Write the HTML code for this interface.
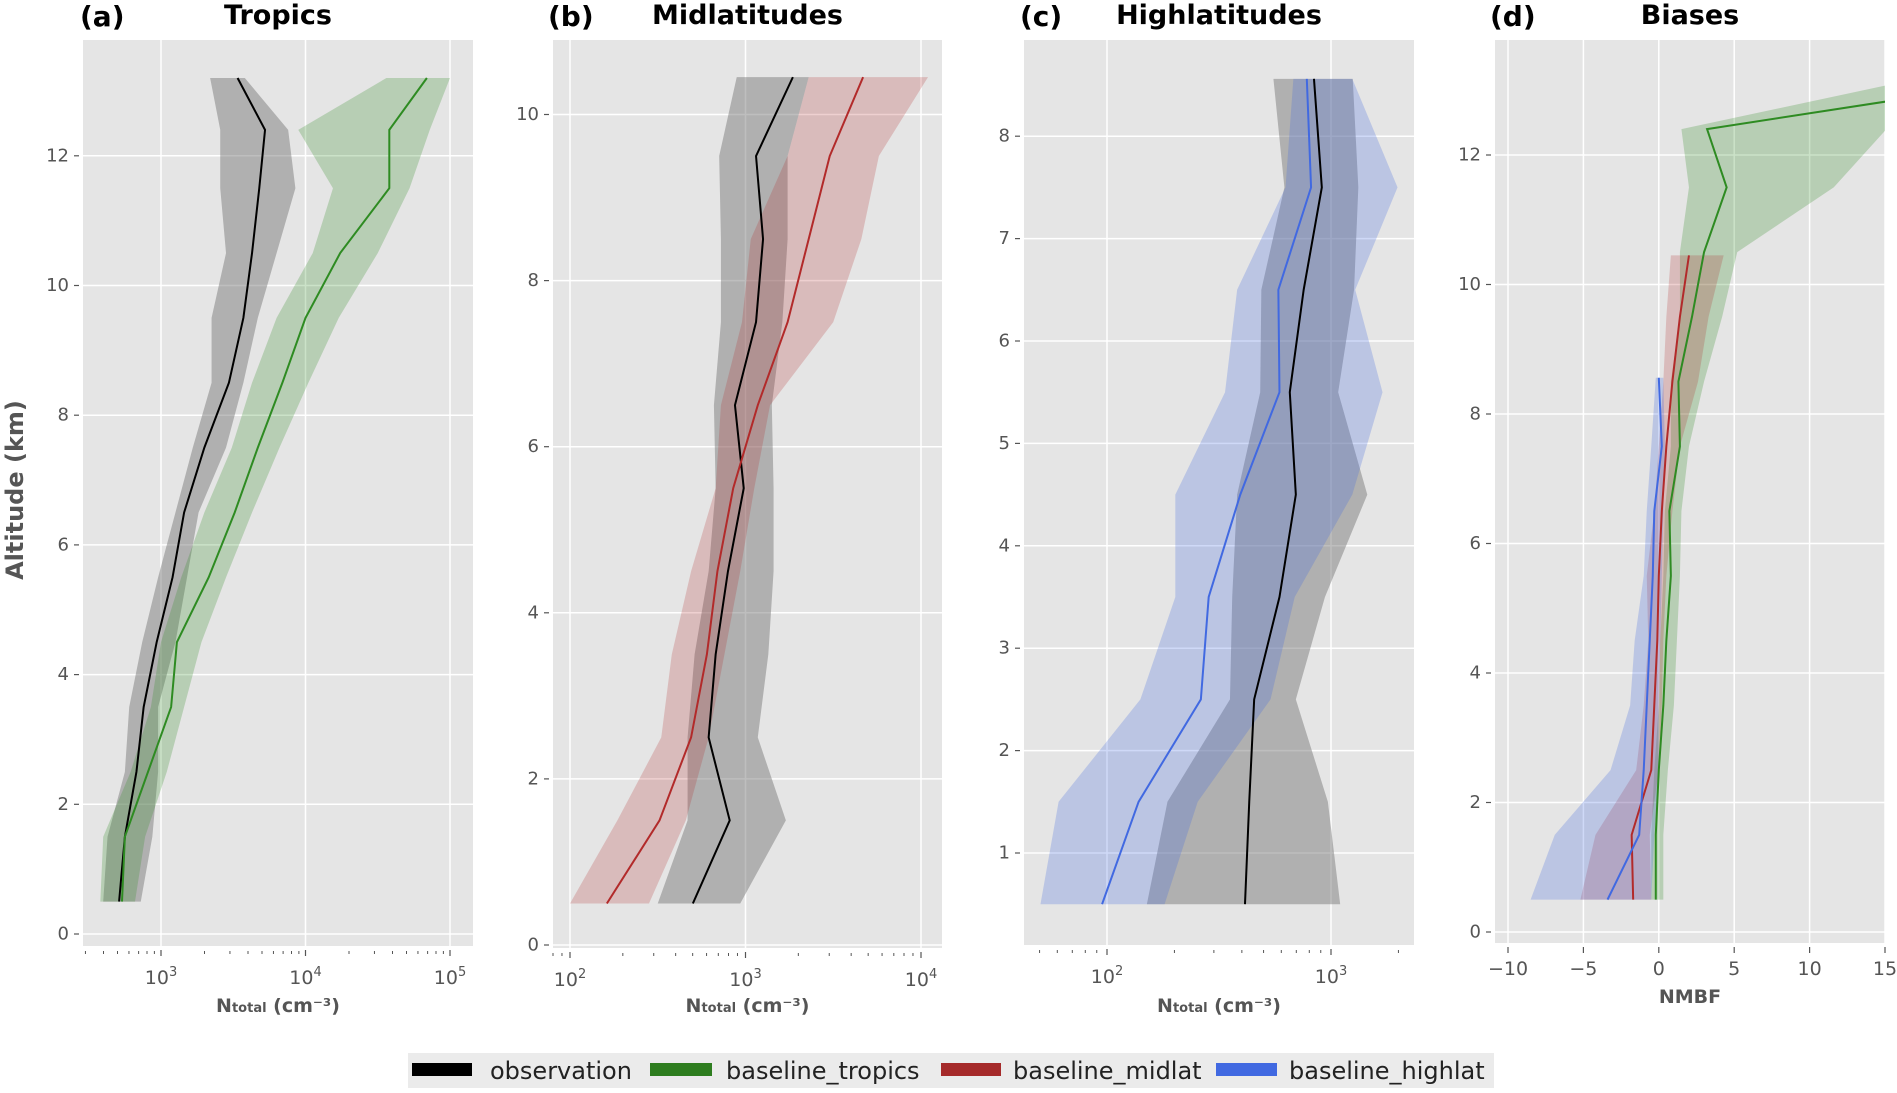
<!DOCTYPE html>
<html><head><meta charset="utf-8"><style>
html,body{margin:0;padding:0;background:#fff;}
body{width:1897px;height:1088px;overflow:hidden;font-family:"Liberation Sans","DejaVu Sans",sans-serif;}
svg text{font-family:"DejaVu Sans","Liberation Sans",sans-serif;}
</style></head><body>
<svg id="chart" width="1897" height="1088" viewBox="0 0 1897 1088" xmlns="http://www.w3.org/2000/svg">
<text x="15" y="490" transform="rotate(-90 15 490)" text-anchor="middle" dominant-baseline="central" font-size="24" font-weight="bold" fill="#555">Altitude (km)</text>
<g>
<rect x="408" y="1053" width="1086" height="35" fill="#ebebeb"/>
<g><rect x="412" y="1063" width="60" height="13" fill="#000"/><text x="490" y="1071" dominant-baseline="central" font-size="24" fill="#222" font-family="Liberation Sans">observation</text></g>
<g><rect x="650" y="1063" width="62" height="13" fill="#2e7d1f"/><text x="726" y="1071" dominant-baseline="central" font-size="24" fill="#222" font-family="Liberation Sans">baseline_tropics</text></g>
<g><rect x="941" y="1063" width="60" height="13" fill="#a52a2a"/><text x="1013" y="1071" dominant-baseline="central" font-size="24" fill="#222" font-family="Liberation Sans">baseline_midlat</text></g>
<g><rect x="1216" y="1063" width="61" height="13" fill="#4169e1"/><text x="1289" y="1071" dominant-baseline="central" font-size="24" fill="#222" font-family="Liberation Sans">baseline_highlat</text></g>
</g>
</svg>
<script>
// ---- Panel (a) Tropics: altitude levels (km) and log10(N) values
const altTropics = [0.5,1.5,2.5,3.5,4.5,5.5,6.5,7.5,8.5,9.5,10.5,11.5,12.4,13.2];
const obsTropMean = [2.71,2.75,2.83,2.88,2.97,3.08,3.16,3.30,3.47,3.57,3.63,3.68,3.72,3.53];
const obsTropLow  = [2.60,2.63,2.75,2.78,2.87,2.98,3.10,3.22,3.35,3.35,3.45,3.41,3.41,3.34];
const obsTropHigh = [2.86,2.94,2.98,2.98,3.10,3.18,3.26,3.45,3.57,3.67,3.80,3.93,3.88,3.58];
const modTropMean = [2.73,2.75,2.91,3.07,3.11,3.33,3.51,3.67,3.84,4.00,4.24,4.58,4.58,4.84];
const modTropLow  = [2.58,2.60,2.79,2.93,3.00,3.14,3.30,3.49,3.63,3.80,4.05,4.19,3.95,4.56];
const modTropHigh = [2.82,2.89,3.04,3.16,3.28,3.45,3.63,3.82,4.02,4.23,4.50,4.72,4.86,5.00];
// ---- Panel (b) Midlatitudes
const altMid = [0.5,1.5,2.5,3.5,4.5,5.5,6.5,7.5,8.5,9.5,10.45];
const obsMidMean = [2.70,2.91,2.79,2.83,2.90,2.99,2.94,3.06,3.10,3.06,3.27];
const obsMidLow  = [2.50,2.67,2.67,2.71,2.79,2.83,2.82,2.86,2.86,2.85,2.95];
const obsMidHigh = [2.97,3.23,3.07,3.13,3.16,3.16,3.15,3.21,3.24,3.24,3.36];
const modMidMean = [2.21,2.51,2.69,2.78,2.84,2.93,3.07,3.24,3.36,3.48,3.67];
const modMidLow  = [2.00,2.27,2.52,2.58,2.69,2.83,2.86,2.98,3.03,3.24,3.36];
const modMidHigh = [2.45,2.66,2.79,2.88,2.97,3.05,3.14,3.50,3.66,3.76,4.04];
// ---- Panel (c) Highlatitudes
const altHigh = [0.5,1.5,2.5,3.5,4.5,5.5,6.5,7.5,8.56];
const obsHighMean = [2.616,2.635,2.657,2.770,2.843,2.816,2.878,2.959,2.924];
const obsHighLow  = [2.178,2.270,2.549,2.559,2.581,2.684,2.689,2.792,2.743];
const obsHighHigh = [3.041,2.986,2.843,2.973,3.162,3.032,3.103,3.122,3.097];
const modHighMean = [1.978,2.141,2.419,2.454,2.595,2.770,2.765,2.911,2.892];
const modHighLow  = [1.703,1.784,2.149,2.305,2.305,2.527,2.581,2.797,2.832];
const modHighHigh = [2.257,2.405,2.730,2.838,3.095,3.230,3.108,3.297,3.095];
// ---- Panel (d) Biases (NMBF)
const biasTropMean = [-0.2,-0.2,0.0,0.3,0.5,0.8,0.7,1.4,1.3,2.2,3.0,4.5,3.2,25.5];
const biasTropLow  = [-0.5,-0.5,-0.3,0.0,0.1,0.3,0.4,0.8,0.8,1.4,1.4,2.0,1.5,17.6];
const biasTropHigh = [0.3,0.3,0.6,1.0,1.2,1.4,1.5,2.0,3.0,4.2,5.2,11.6,15.1,35];
const biasMidMean = [-1.7,-1.8,-0.5,-0.3,-0.1,0.0,0.2,0.5,0.9,1.4,2.0];
const biasMidLow  = [-5.2,-4.2,-1.5,-1.0,-0.7,-0.8,-0.3,0.0,0.3,0.5,0.8];
const biasMidHigh = [-0.5,-0.6,0.0,0.2,0.3,0.5,0.9,1.4,2.6,3.3,4.3];
const biasHighMean = [-3.4,-1.3,-1.0,-0.8,-0.6,-0.4,-0.3,0.2,0.0];
const biasHighLow  = [-8.5,-6.9,-3.2,-1.9,-1.6,-1.0,-0.8,-0.5,-0.2];
const biasHighHigh = [-0.5,-0.3,0.0,0.0,0.1,0.2,0.3,0.4,0.3];
// tick labels
const yTicksA = [0,2,4,6,8,10,12];
const yTicksB = [0,2,4,6,8,10];
const yTicksC = [1,2,3,4,5,6,7,8];
const yTicksD = [0,2,4,6,8,10,12];
const xDecadesA = [3,4,5];
const xDecadesB = [2,3,4];
const xDecadesC = [2,3];
const xTicksD = [-10,-5,0,5,10,15];

const NS='http://www.w3.org/2000/svg';
const svg=document.getElementById('chart');
function mk(tag,attrs,parent){const e=document.createElementNS(NS,tag);for(const k in attrs)e.setAttribute(k,attrs[k]);(parent||svg).appendChild(e);return e;}

const COL={obs:['#000','rgba(110,110,110,0.45)'],trop:['#2e8b22','rgba(46,139,34,0.25)'],mid:['#b22a2a','rgba(178,42,42,0.22)'],high:['#4169e1','rgba(65,105,225,0.25)']};

function panel(cfg,idx){
  const g=mk('g',{});
  
  
  const L=cfg.L,R=cfg.R,T=cfg.T,B=cfg.B;
  const sx=v=>cfg.x0+(v-cfg.xv0)*cfg.xs;
  const sy=v=>cfg.y0-v*cfg.ys;
  const bg=mk('rect',{x:L,y:T,width:R-L,height:B-T,fill:'#e5e5e5'},g);
  
  
  const cp=mk('clipPath',{id:'clip'+idx},g);mk('rect',{x:L,y:T,width:R-L,height:B-T},cp);
  // y ticks and gridlines
  cfg.yTicks.forEach(t=>{const y=sy(t);
    mk('line',{x1:L,x2:R,y1:y,y2:y,stroke:'#fff','stroke-width':1.5},g);
    mk('line',{x1:L-9,x2:L-4,y1:y,y2:y,stroke:'#555','stroke-width':1.2},g);
    const tx=mk('text',{x:L-14,y:y,'text-anchor':'end','dominant-baseline':'central','font-size':18,fill:'#555'},g);tx.textContent=t;
    
    
  });
  // x ticks
  if(cfg.log){
    const lo=Math.floor(cfg.xmin),hi=Math.ceil(cfg.xmax);
    for(let d=lo;d<=hi;d++){for(let m=1;m<10;m++){const v=d+Math.log10(m);const x=sx(v);if(x<L-0.5||x>R+0.5)continue;
      if(m===1){mk('line',{x1:x,x2:x,y1:T,y2:B,stroke:'#fff','stroke-width':1.5},g);mk('line',{x1:x,x2:x,y1:B+4,y2:B+10,stroke:'#555','stroke-width':1.2},g);}
      else mk('line',{x1:x,x2:x,y1:B+5,y2:B+8,stroke:'#555','stroke-width':1},g);}}
    cfg.decades.forEach(d=>{const x=sx(d);const tx=mk('text',{x:x,y:B+38,'text-anchor':'middle','font-size':19,fill:'#555'},g);
      
      
      const a=mk('tspan',{},tx);a.textContent='10';const s=mk('tspan',{dy:-8,'font-size':13},tx);s.textContent=d;});
  } else {
    cfg.xTicks.forEach(t=>{const x=sx(t);mk('line',{x1:x,x2:x,y1:T,y2:B,stroke:'#fff','stroke-width':1.5},g);
      mk('line',{x1:x,x2:x,y1:B+4,y2:B+10,stroke:'#555','stroke-width':1.2},g);
      const tx=mk('text',{x:x,y:B+32,'text-anchor':'middle','font-size':19,fill:'#555'},g);tx.textContent=(t<0?'\u2212'+(-t):t);
      
      });
  }
  // series
  const sg=mk('g',{'clip-path':'url(#clip'+idx+')'},g);
  cfg.series.forEach(s=>{
    let pts=[];s.low.forEach((v,i)=>pts.push(sx(v)+','+sy(s.alt[i])));
    for(let i=s.high.length-1;i>=0;i--)pts.push(sx(s.high[i])+','+sy(s.alt[i]));
    const p=mk('polygon',{points:pts.join(' '),fill:COL[s.c][1]},sg);
    
    
  });
  cfg.series.forEach(s=>{
    const pts=s.mean.map((v,i)=>sx(v)+','+sy(s.alt[i])).join(' ');
    const l=mk('polyline',{points:pts,fill:'none',stroke:COL[s.c][0],'stroke-width':2},sg);
    
    
  });
  // titles
  const lab=mk('text',{x:cfg.labX,y:26,'font-size':28,'font-weight':'bold',fill:'#000','font-family':'Liberation Sans'},g);lab.textContent=cfg.letter;
  
  
  const ti=mk('text',{x:(L+R)/2,y:24,'text-anchor':'middle','font-size':27,'font-weight':'bold',fill:'#000'},g);ti.textContent=cfg.title;
  
  
  const xl=mk('text',{x:(L+R)/2,y:cfg.xlabY,'text-anchor':'middle','font-size':19,'font-weight':'bold',fill:'#555'},g);
  
  
  if(cfg.log){const a=mk('tspan',{},xl);a.textContent='N';const b=mk('tspan',{'font-size':13},xl);b.textContent='total';const c=mk('tspan',{},xl);c.textContent=' (cm\u207B\u00B3)';}
  else xl.textContent='NMBF';
}

panel({key:'tropics',letter:'(a)',title:'Tropics',labX:80,L:83,R:473,T:40,B:946,x0:161,xv0:3,xs:144.5,y0:934,ys:64.85,log:true,xmin:2.46,xmax:5.16,decades:xDecadesA,yTicks:yTicksA,xlabY:1012,
  series:[{name:'observation',c:'obs',alt:altTropics,mean:obsTropMean,low:obsTropLow,high:obsTropHigh},{name:'baseline-tropics',c:'trop',alt:altTropics,mean:modTropMean,low:modTropLow,high:modTropHigh}]},0);
panel({key:'midlatitudes',letter:'(b)',title:'Midlatitudes',labX:548,L:553,R:942,T:40,B:948,x0:570,xv0:2,xs:175.5,y0:945,ys:83.05,log:true,xmin:1.9,xmax:4.12,decades:xDecadesB,yTicks:yTicksB,xlabY:1012,
  series:[{name:'observation',c:'obs',alt:altMid,mean:obsMidMean,low:obsMidLow,high:obsMidHigh},{name:'baseline-midlat',c:'mid',alt:altMid,mean:modMidMean,low:modMidLow,high:modMidHigh}]},1);
panel({key:'highlatitudes',letter:'(c)',title:'Highlatitudes',labX:1020,L:1024,R:1414,T:40,B:945,x0:1107,xv0:2,xs:224,y0:955.4,ys:102.4,log:true,xmin:1.63,xmax:3.37,decades:xDecadesC,yTicks:yTicksC,xlabY:1012,
  series:[{name:'observation',c:'obs',alt:altHigh,mean:obsHighMean,low:obsHighLow,high:obsHighHigh},{name:'baseline-highlat',c:'high',alt:altHigh,mean:modHighMean,low:modHighLow,high:modHighHigh}]},2);
panel({key:'biases',letter:'(d)',title:'Biases',labX:1490,L:1495,R:1885,T:40,B:943,x0:1508,xv0:-10,xs:15.08,y0:932,ys:64.75,log:false,xTicks:xTicksD,yTicks:yTicksD,xlabY:1003,
  series:[{name:'bias-tropics',c:'trop',alt:altTropics,mean:biasTropMean,low:biasTropLow,high:biasTropHigh},{name:'bias-midlat',c:'mid',alt:altMid,mean:biasMidMean,low:biasMidLow,high:biasMidHigh},{name:'bias-highlat',c:'high',alt:altHigh,mean:biasHighMean,low:biasHighLow,high:biasHighHigh}]},3);
</script>
</body></html>
